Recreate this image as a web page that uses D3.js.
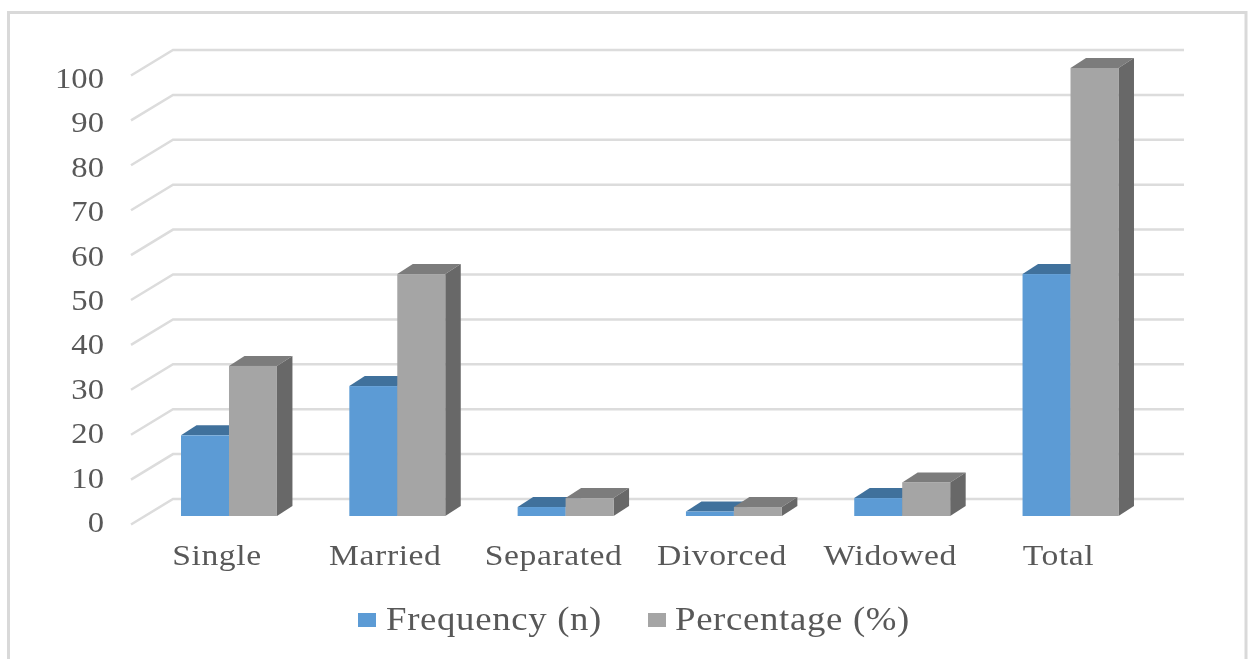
<!DOCTYPE html>
<html><head><meta charset="utf-8">
<script src="https://cdn.jsdelivr.net/npm/d3@7"></script>
<style>html,body{margin:0;padding:0;background:#fff}svg{display:block}text{font-family:"Liberation Serif",serif;fill:#595959}</style>
</head><body><svg id="c" width="1251" height="659"></svg>
<script>
const categories=["Single","Married","Separated","Divorced","Widowed","Total"];
const frequency=[18,29,2,1,4,54];
const percentage=[33.5,54,4,2,7.5,100];
const yTicks=[0,10,20,30,40,50,60,70,80,90,100];
const seriesNames=["Frequency (n)","Percentage (%)"];

const svg=d3.select("#c");
const defs=svg.append("defs");
defs.append("filter").attr("id","soft").append("feGaussianBlur").attr("stdDeviation",0.6);
const root=svg.append("g").attr("filter","url(#soft)");
root.append("path").attr("d","M8.5,659V12.5H1246V659").attr("fill","none").attr("stroke","#d9d9d9").attr("stroke-width",3);

const y=d3.scaleLinear().domain([0,100]).range([516,68]);
const yBack=d3.scaleLinear().domain([0,100]).range([499,50]);
const yLabel=d3.scaleLinear().domain([0,100]).range([532,88]);
const x0=d3.scaleBand().domain(categories).range([145.15,1154.35]).paddingInner(0.43).paddingOuter(0.2131);
const x1=d3.scaleBand().domain([0,1]).range([0,x0.bandwidth()]);
const depthX=15.5,depthY=10;

root.append("g").selectAll("path").data(yTicks).join("path")
 .attr("d",v=>`M131,${yBack(v)+25.5}L173,${yBack(v)}H1184`)
 .attr("fill","none").attr("stroke","#dcdcdc").attr("stroke-width",2.5);

function fitText(sel,sx){return sel.attr("transform",function(){
  return `translate(${this.getAttribute("data-x")},${this.getAttribute("data-y")}) scale(${sx},1)`;});}

root.append("g").selectAll("text").data(yTicks).join("text")
 .text(d=>d).attr("text-anchor","end").attr("font-size",30)
 .attr("data-x",104).attr("data-y",v=>yLabel(v)).call(fitText,1.09);

const colors=[{f:"#5b9bd5",t:"#41719c",s:"#41719c"},{f:"#a5a5a5",t:"#7c7c7c",s:"#686868"}];
const series=[frequency,percentage];
categories.forEach((c,i)=>{
 const g=root.append("g");
 series.forEach((vals,j)=>{
  const v=vals[i],l=x0(c)+x1(j),r=l+x1.bandwidth(),t=y(v),b=y(0),col=colors[j];
  g.append("path").attr("fill",col.t).attr("d",`M${l},${t}L${l+depthX},${t-depthY}H${r+depthX}L${r},${t}Z`);
  g.append("path").attr("fill",col.s).attr("d",`M${r},${t}L${r+depthX},${t-depthY}V${b-depthY}L${r},${b}Z`);
  g.append("rect").attr("x",l).attr("y",t).attr("width",r-l).attr("height",b-t).attr("fill",col.f);
 });
});

root.append("g").selectAll("text").data(categories).join("text")
 .text(d=>d).attr("text-anchor","middle").attr("font-size",29).attr("letter-spacing",0.5)
 .attr("data-x",d=>x0(d)+x0.bandwidth()/2-12).attr("data-y",565).call(fitText,1.16);

const legendX=[358,648],legendTextX=[386,675];
seriesNames.forEach((n,i)=>{
 root.append("rect").attr("x",legendX[i]).attr("y",613).attr("width",18).attr("height",14).attr("fill",colors[i].f);
 root.append("text").text(n).attr("font-size",33).attr("letter-spacing",0.6)
  .attr("data-x",legendTextX[i]).attr("data-y",630).call(fitText,1.115);
});
</script></body></html>
